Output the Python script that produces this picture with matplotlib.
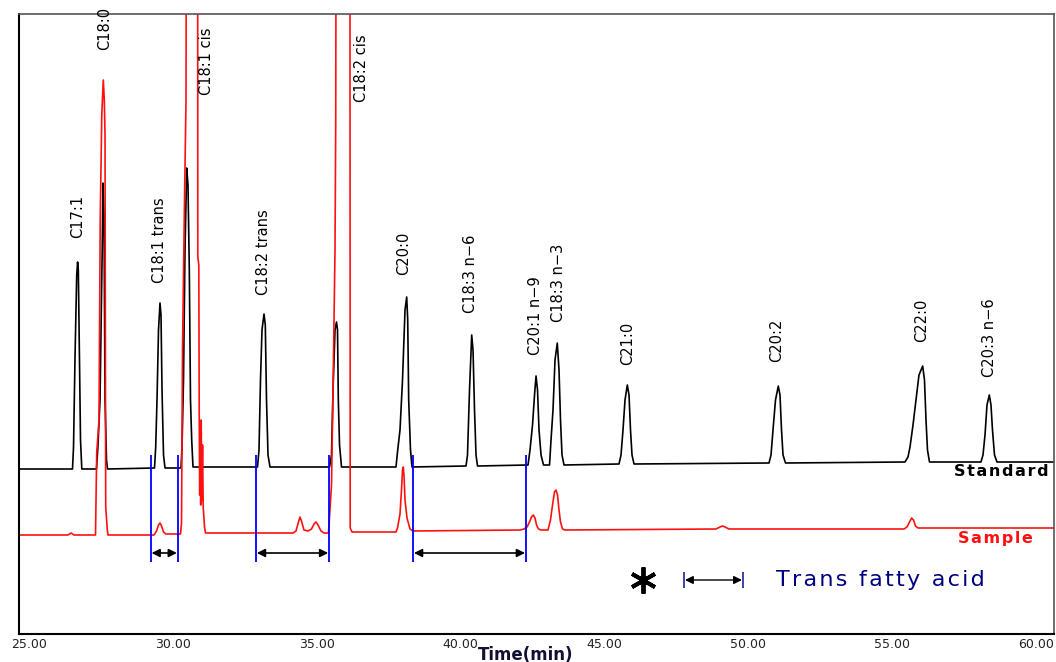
import numpy as np
import matplotlib
matplotlib.use("Agg")
import matplotlib.pyplot as plt

# ---- chromatogram data (time in min, signal in arbitrary units above trace baseline) ----
std_time = [
    24.652,
    26.512, 26.547, 26.599, 26.658, 26.689, 26.714, 26.748, 26.790, 26.835,
    27.346, 27.398, 27.468, 27.503, 27.544, 27.572, 27.607, 27.642, 27.694, 27.728,
    29.362, 29.404, 29.449, 29.501, 29.553, 29.588, 29.623, 29.675, 29.727,
    30.283, 30.318, 30.370, 30.422, 30.481, 30.526, 30.572, 30.613, 30.655, 30.700,
    32.942, 32.994, 33.046, 33.098, 33.168, 33.213, 33.255, 33.307, 33.377,
    35.445, 35.514, 35.567, 35.636, 35.688, 35.723, 35.751, 35.793, 35.862,
    37.756, 37.808, 37.895, 37.982, 38.069, 38.128, 38.163, 38.197, 38.260, 38.312,
    40.189, 40.241, 40.311, 40.387, 40.433, 40.485, 40.537, 40.589,
    42.344, 42.414, 42.501, 42.571, 42.623, 42.675, 42.727, 42.797, 42.883,
    43.092, 43.144, 43.213, 43.283, 43.362, 43.422, 43.474, 43.526, 43.596,
    45.507, 45.577, 45.646, 45.716, 45.796, 45.855, 45.907, 45.959, 46.029,
    50.721, 50.791, 50.860, 50.947, 51.044, 51.103, 51.156, 51.208, 51.294,
    55.448, 55.552, 55.622, 55.726, 55.830, 55.934, 56.063, 56.125, 56.178, 56.230, 56.299,
    58.089, 58.159, 58.229, 58.298, 58.378, 58.437, 58.489, 58.559, 58.646,
    60.627,
]
std_signal = [
    0,
    0, 22, 112, 194, 207, 199, 126, 29, 0,
    0, 24, 69, 139, 219, 286, 254, 69, 9, 0,
    1, 22, 69, 139, 166, 154, 79, 14, 1,
    1, 22, 89, 219, 301, 284, 199, 69, 29, 2,
    2, 19, 89, 139, 155, 144, 69, 14, 2,
    2, 14, 79, 139, 147, 139, 69, 24, 2,
    2, 17, 39, 89, 159, 172, 149, 69, 19, 2,
    3, 14, 79, 134, 119, 59, 14, 3,
    4, 19, 44, 74, 93, 79, 39, 14, 4,
    4, 29, 59, 109, 126, 99, 49, 14, 4,
    5, 14, 39, 69, 84, 74, 39, 14, 5,
    6, 14, 39, 69, 83, 74, 39, 14, 6,
    7, 12, 22, 44, 69, 94, 103, 89, 49, 19, 7,
    7, 14, 34, 64, 74, 64, 39, 14, 7,
    7,
]

smp_time = [
    24.652, 26.356, 26.460, 26.564,
    27.311, 27.353, 27.433, 27.475, 27.529, 27.582, 27.617, 27.642, 27.652, 27.666, 27.722, 27.746,
    29.345, 29.432, 29.501, 29.553, 29.606, 29.675, 29.762,
    30.266, 30.301, 30.335, 30.405, 30.457, 30.492, 30.857, 30.867, 30.902, 30.916, 30.933,
    30.951, 30.968, 30.985, 31.006, 31.031, 31.055, 31.100, 31.135,
    34.176, 34.280, 34.367, 34.419, 34.471, 34.558, 34.697, 34.819, 34.906, 34.975, 35.045, 35.149, 35.254,
    35.410, 35.514, 35.567, 35.636, 35.661, 35.695, 36.150, 36.164, 36.227,
    37.756, 37.808, 37.895, 37.947, 37.982, 38.010, 38.034, 38.069, 38.138, 38.243, 38.347,
    42.066, 42.205, 42.310, 42.396, 42.466, 42.529, 42.588, 42.640, 42.710, 42.796,
    43.039, 43.126, 43.196, 43.265, 43.317, 43.370, 43.422, 43.474, 43.543, 43.630,
    48.878, 49.017, 49.104, 49.191, 49.330,
    55.413, 55.517, 55.604, 55.680, 55.743, 55.812, 55.899,
    60.627,
]
smp_signal = [
    0, 0, 2, 0,
    0, 82, 115, 315, 420, 455, 435, 400, 235, 28, 5, 0,
    0, 4, 10, 12, 9, 3, 1,
    1, 12, 185, 335, 435, 1000, 1000, 278, 270, 122, 40,
    110, 30, 115, 35, 90, 28, 8, 2,
    2, 4, 13, 18, 14, 5, 4, 6, 11, 13, 10, 4, 2,
    2, 50, 145, 285, 413, 1000, 1000, 7, 3,
    3, 7, 21, 45, 65, 68, 60, 35, 17, 6, 4,
    5, 6, 8, 13, 18, 20, 17, 10, 6, 5,
    5, 15, 30, 43, 45, 40, 25, 13, 6, 5,
    6, 8, 9, 8, 6,
    6, 8, 13, 17, 15, 9, 7,
    7,
]

# peak names and where they are written (time, bottom of rotated text)
peak_names = ["C17:1", "C18:0", "C18:1 trans", "C18:1 cis", "C18:2 trans", "C18:2 cis",
              "C20:0", "C18:3 n\u22126", "C20:1 n\u22129", "C18:3 n\u22123", "C21:0",
              "C20:2", "C22:0", "C20:3 n\u22126"]
label_time = [26.69, 27.62, 29.55, 31.18, 33.14, 36.56, 38.01, 40.36, 42.59, 43.40,
              45.81, 50.99, 56.03, 58.38]
label_y = [396, 584, 351, 539, 339, 532, 359, 321, 279, 312, 269, 272, 292, 257]

# trans fatty acid windows (min)
trans_windows = [(29.23, 30.17), (32.89, 35.43), (38.35, 42.27)]

x_ticks = [25, 30, 35, 40, 45, 50, 55, 60]

STD_OFFSET = 165
SMP_OFFSET = 99


def spaced(s):
    return "\u200a".join(s)


fig = plt.figure(figsize=(10.56, 6.62), dpi=100)
ax = fig.add_axes([19 / 1056, 28 / 662, 1035 / 1056, 620 / 662])

ax.plot(std_time, np.array(std_signal) + STD_OFFSET, color="black", lw=1.2)
ax.plot(smp_time, np.array(smp_signal) + SMP_OFFSET, color="#ff1010", lw=1.2)

for name, t, yb in zip(peak_names, label_time, label_y):
    ax.text(t, yb, name, rotation=90, ha="center", va="bottom",
            fontsize=10.5, color="black")

# trans fatty acid regions
for a, b in trans_windows:
    ax.vlines([a, b], 72, 179, color="#0000ff", lw=1.3)
    ax.annotate("", xy=(a + 0.03, 81), xytext=(b - 0.03, 81),
                arrowprops=dict(arrowstyle="<|-|>", color="black", lw=1.2,
                                mutation_scale=12, shrinkA=0, shrinkB=0))

# legend
ax.plot([46.34], [54], marker=(6, 2, 0), markersize=19, mew=2.8, color="black")
ax.vlines([47.77, 49.81], 46, 62, color="#2020a0", lw=1.2)
ax.annotate("", xy=(47.80, 54), xytext=(49.78, 54),
            arrowprops=dict(arrowstyle="<|-|>", color="black", lw=1.0,
                            mutation_scale=12, shrinkA=0, shrinkB=0))
ax.text(50.96, 54, spaced("Trans fatty acid"), ha="left", va="center",
        fontsize=16, color="#000080")

ax.text(60.45, 162, spaced("Standard"), ha="right", va="center",
        fontsize=11.5, fontweight="bold", color="black")
ax.text(59.90, 96, spaced("Sample"), ha="right", va="center",
        fontsize=11.5, fontweight="bold", color="#ff1010")

ax.set_xlim(24.652, 60.627)
ax.set_ylim(0, 620)
ax.set_yticks([])
ax.set_xticks(x_ticks)
ax.set_xticklabels([f"{v:.2f}" for v in x_ticks])
ax.tick_params(axis="x", length=0, pad=3, labelsize=9, labelcolor="#222222")

for side in ["left", "bottom"]:
    ax.spines[side].set_color("black")
    ax.spines[side].set_linewidth(1.5)
for side in ["top", "right"]:
    ax.spines[side].set_color("#555555")
    ax.spines[side].set_linewidth(1.2)

fig.text(525.5 / 1056, 1 - 655 / 662, "Time(min)", ha="center", va="center",
         fontsize=12, fontweight="bold", color="#101030")

fig.savefig("out.png", dpi=100)
